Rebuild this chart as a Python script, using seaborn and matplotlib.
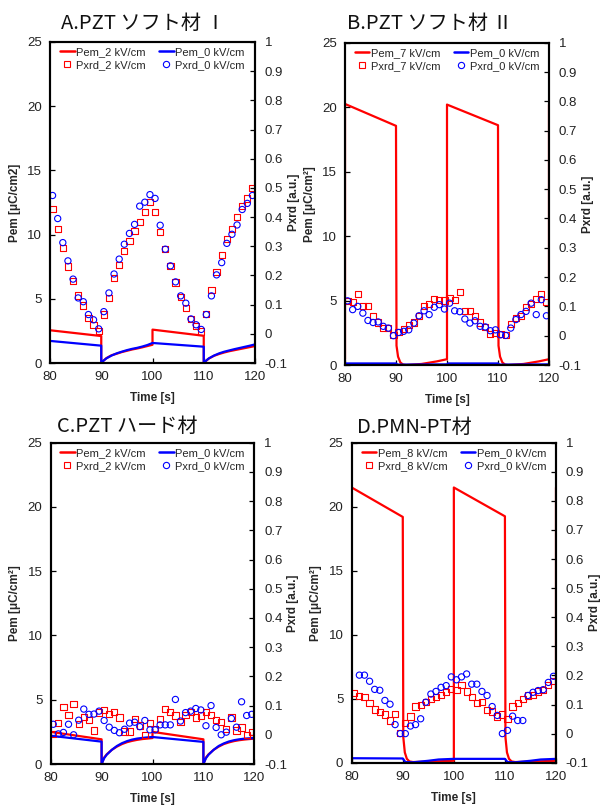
import numpy as np
import pandas as pd
import matplotlib
matplotlib.use("Agg")
import matplotlib.pyplot as plt
from matplotlib.lines import Line2D
import seaborn as sns

# ---------------- data ----------------
t_xrd = np.arange(80.5, 120.0, 1.0)   # XRD sampling times [s]

# Panel A  (PZT soft I)
A_pem_hi_t = [80, 90, 90, 90.5, 91, 92, 93, 94, 95, 96, 97, 98, 99, 100, 100, 110, 110, 110.5, 111, 112, 113, 114, 115, 116, 117, 118, 119, 120]
A_pem_hi_v = [2.55, 2.1, 0.0, 0.2, 0.38, 0.6, 0.72, 0.85, 0.95, 1.05, 1.13, 1.22, 1.32, 1.42, 2.6, 2.12, 0.0, 0.18, 0.35, 0.56, 0.7, 0.82, 0.92, 1.0, 1.08, 1.16, 1.24, 1.32]
A_pem_0_t = [80, 90, 90, 90.5, 91, 92, 93, 94, 95, 96, 97, 98, 99, 100, 110, 110, 110.5, 111, 112, 113, 114, 115, 116, 117, 118, 119, 120]
A_pem_0_v = [1.72, 1.35, 0.0, 0.2, 0.36, 0.58, 0.75, 0.88, 1.0, 1.1, 1.18, 1.28, 1.4, 1.56, 1.27, 0.0, 0.2, 0.36, 0.58, 0.75, 0.88, 0.98, 1.08, 1.17, 1.26, 1.35, 1.45]
A_xrd_hi = [0.428, 0.358, 0.293, 0.231, 0.18, 0.131, 0.097, 0.053, 0.031, 0.011,
            0.066, 0.124, 0.191, 0.236, 0.284, 0.318, 0.352, 0.384, 0.417, 0.452,
            0.417, 0.349, 0.29, 0.233, 0.176, 0.127, 0.089, 0.051, 0.028, 0.008,
            0.068, 0.15, 0.2125, 0.269, 0.324, 0.358, 0.4, 0.4375, 0.464, 0.5]
A_xrd_0 = [0.474, 0.395, 0.3125, 0.25, 0.1875, 0.123, 0.11, 0.066, 0.048, 0.017,
           0.076, 0.14, 0.205, 0.256, 0.307, 0.344, 0.375, 0.4375, 0.451, 0.477,
           0.464, 0.372, 0.29, 0.233, 0.178, 0.13, 0.105, 0.051, 0.031, 0.015,
           0.066, 0.13, 0.202, 0.244, 0.31, 0.341, 0.373, 0.426, 0.447, 0.474]

# Panel B  (PZT soft II)
B_pem_hi_t = [80, 80, 90, 90.1, 90.4, 90.85, 91.4, 92, 95, 98, 100, 100, 110, 110.1, 110.4, 110.85, 111.4, 112, 115, 118, 120, 120]
B_pem_hi_v = [0.45, 20.25, 18.55, 1.5, 0.65, 0.2, 0.03, 0.0, 0.08, 0.28, 0.45, 20.2, 18.6, 1.5, 0.65, 0.2, 0.03, 0.0, 0.08, 0.28, 0.45, 20.2]
B_pem_0_t = [80, 90, 90.3, 100, 100.2, 110, 110.3, 120]
B_pem_0_v = [0.12, 0.12, 0.03, 0.05, 0.12, 0.12, 0.03, 0.05]
B_xrd_hi = [0.119, 0.116, 0.143, 0.102, 0.102, 0.066, 0.045, 0.025, 0.026, 0.002,
            0.0125, 0.023, 0.036, 0.045, 0.066, 0.102, 0.109, 0.126, 0.123, 0.12,
            0.128, 0.123, 0.148, 0.083, 0.083, 0.066, 0.045, 0.03, 0.007, 0.009,
            0.006, 0.003, 0.041, 0.06, 0.068, 0.098, 0.109, 0.125, 0.142, 0.114]
B_xrd_0 = [0.119, 0.089, 0.1, 0.077, 0.052, 0.045, 0.047, 0.032, 0.026, 0.0,
           0.011, 0.015, 0.02, 0.043, 0.068, 0.085, 0.072, 0.097, 0.106, 0.091,
           0.111, 0.085, 0.082, 0.057, 0.043, 0.051, 0.032, 0.03, 0.017, 0.02,
           0.003, 0.001, 0.026, 0.055, 0.072, 0.083, 0.111, 0.072, 0.123, 0.068]

# Panel C  (PZT hard)
C_pem_hi_t = [80, 90, 90, 90.5, 91, 92, 93, 94, 95, 96, 97, 98, 99, 100, 100, 110, 110, 110.5, 111, 112, 113, 114, 115, 116, 117, 118, 119, 120]
C_pem_hi_v = [2.5, 1.92, 0.0, 0.5, 0.75, 1.1, 1.35, 1.55, 1.7, 1.8, 1.88, 1.94, 1.98, 2.02, 2.5, 1.92, 0.0, 0.5, 0.75, 1.1, 1.35, 1.55, 1.68, 1.78, 1.85, 1.9, 1.94, 1.97]
C_pem_0_t = [80, 90, 90, 90.5, 91, 92, 93, 94, 95, 96, 97, 98, 99, 100, 110, 110, 110.5, 111, 112, 113, 114, 115, 116, 117, 118, 119, 120]
C_pem_0_v = [2.2, 1.74, 0.0, 0.45, 0.72, 1.1, 1.4, 1.62, 1.78, 1.9, 1.98, 2.03, 2.07, 2.1, 1.72, 0.0, 0.45, 0.72, 1.1, 1.4, 1.6, 1.75, 1.85, 1.92, 1.97, 2.0, 2.02]
C_xrd_hi = [0.002, 0.04, 0.094, 0.068, 0.105, 0.036, 0.06, 0.051, 0.015, 0.076,
            0.085, 0.071, 0.077, 0.059, 0.011, 0.011, 0.053, 0.032, -0.002, 0.04,
            0.02, 0.054, 0.087, 0.077, 0.066, 0.043, 0.068, 0.079, 0.059, 0.066,
            0.077, 0.068, 0.051, 0.043, 0.02, 0.059, 0.015, 0.025, -0.002, 0.009]
C_xrd_0 = [0.036, 0.003, 0.008, 0.036, 0.0, 0.05, 0.088, 0.07, 0.071, 0.081,
           0.049, 0.026, 0.015, 0.007, 0.019, 0.04, 0.043, 0.028, 0.049, 0.017,
           0.017, 0.034, 0.034, 0.034, 0.121, 0.047, 0.076, 0.081, 0.09, 0.085,
           0.031, 0.1, 0.025, 0.0, 0.009, 0.056, 0.026, 0.113, 0.066, 0.07]

# Panel D  (PMN-PT)
D_pem_hi_t = [80, 80, 90, 90.1, 90.4, 90.8, 91.3, 92, 100, 100, 110, 110.1, 110.4, 110.8, 111.3, 112, 120, 120]
D_pem_hi_v = [0.15, 21.5, 19.2, 2.0, 0.8, 0.3, 0.1, 0.05, 0.15, 21.5, 19.25, 2.0, 0.8, 0.3, 0.1, 0.05, 0.15, 21.5]
D_pem_0_t = [80, 90, 90.5, 92, 95, 97, 100, 110, 110.5, 112, 115, 117, 120]
D_pem_0_v = [0.35, 0.33, 0.05, 0.03, 0.15, 0.25, 0.3, 0.3, 0.05, 0.03, 0.15, 0.25, 0.3]
D_xrd_hi = [0.139, 0.13, 0.125, 0.106, 0.083, 0.074, 0.066, 0.045, 0.068, 0.002,
            0.0375, 0.059, 0.093, 0.097, 0.108, 0.119, 0.127, 0.133, 0.142, 0.153,
            0.15, 0.167, 0.145, 0.125, 0.105, 0.11, 0.08, 0.076, 0.059, 0.066,
            0.051, 0.093, 0.105, 0.119, 0.131, 0.134, 0.145, 0.15, 0.167, 0.182]
D_xrd_0 = [0.201, 0.201, 0.18, 0.152, 0.149, 0.114, 0.101, 0.031, 0.0,
           0.0, 0.026, 0.031, 0.051, 0.108, 0.136, 0.145, 0.159, 0.165, 0.195,
           0.185, 0.195, 0.205, 0.17, 0.17, 0.145, 0.131, 0.093, 0.0625, 0.0,
           0.011, 0.06, 0.045, 0.045, 0.131, 0.142, 0.148, 0.151, 0.176, 0.197]

titles = ["A.PZT ソフト材 Ⅰ", "B.PZT ソフト材 Ⅱ", "C.PZT ハード材", "D.PMN-PT材"]
fields = ["2", "7", "2", "8"]
ylabels = ["Pem [μC/cm2]", "Pem [μC/cm²]", "Pem [μC/cm²]", "Pem [μC/cm²]"]
x_ticks = [80, 90, 100, 110, 120]
left_ticks = [0, 5, 10, 15, 20, 25]
right_ticks = [-0.1, 0, 0.1, 0.2, 0.3, 0.4, 0.5, 0.6, 0.7, 0.8, 0.9, 1]
right_ticklabels = ["-0.1", "0", "0.1", "0.2", "0.3", "0.4", "0.5", "0.6", "0.7", "0.8", "0.9", "1"]

panels = [
    dict(hi=(A_pem_hi_t, A_pem_hi_v), lo=(A_pem_0_t, A_pem_0_v), xhi=(t_xrd, A_xrd_hi), xlo=(t_xrd, A_xrd_0)),
    dict(hi=(B_pem_hi_t, B_pem_hi_v), lo=(B_pem_0_t, B_pem_0_v), xhi=(t_xrd, B_xrd_hi), xlo=(t_xrd, B_xrd_0)),
    dict(hi=(C_pem_hi_t, C_pem_hi_v), lo=(C_pem_0_t, C_pem_0_v), xhi=(t_xrd, C_xrd_hi), xlo=(t_xrd, C_xrd_0)),
    dict(hi=(D_pem_hi_t, D_pem_hi_v), lo=(D_pem_0_t, D_pem_0_v), xhi=(t_xrd, D_xrd_hi), xlo=(t_xrd[1:], D_xrd_0)),
]

# ---------------- style ----------------
sns.set_theme(style="ticks")
plt.rcParams['font.family'] = ['Liberation Sans', 'Noto Sans CJK JP', 'DejaVu Sans']

W, H = 601, 805
fig = plt.figure(figsize=(W / 100, H / 100), dpi=100)
fig.patch.set_facecolor("white")

# axes boxes in pixels: left, right, top, bottom
boxes = [(50, 255, 42, 363), (345, 549, 42.7, 365), (50.7, 254.3, 442.7, 764), (351.7, 556, 442.7, 762.7)]
title_pos = [(60.7, 28.5), (346.7, 28.5), (56.7, 431.5), (356.7, 432.5)]

RED = "#ff0000"
BLUE = "#0000ff"

for i, (p, box) in enumerate(zip(panels, boxes)):
    l, r, t, b = box
    ax = fig.add_axes([l / W, 1 - b / H, (r - l) / W, (b - t) / H])
    ax.set_facecolor("white")
    ax2 = ax.twinx()

    sns.lineplot(x=p["hi"][0], y=p["hi"][1], ax=ax, color=RED, lw=1.6,
                 sort=False, estimator=None, legend=False)
    sns.lineplot(x=p["lo"][0], y=p["lo"][1], ax=ax, color=BLUE, lw=1.6,
                 sort=False, estimator=None, legend=False)
    sns.scatterplot(x=p["xhi"][0], y=p["xhi"][1], ax=ax2, marker="s", s=20,
                    facecolors="none", edgecolor=RED, linewidth=0.8, legend=False)
    sns.scatterplot(x=p["xlo"][0], y=p["xlo"][1], ax=ax2, marker="o", s=20,
                    facecolors="none", edgecolor=BLUE, linewidth=0.8, legend=False)

    ax.set_xlim(80, 120)
    ax.set_ylim(0, 25)
    ax2.set_ylim(-0.1, 1)
    ax.set_xticks(x_ticks)
    ax.set_xticklabels([str(v) for v in x_ticks])
    ax.set_yticks(left_ticks)
    ax.set_yticklabels([str(v) for v in left_ticks])
    ax2.set_yticks(right_ticks)
    ax2.set_yticklabels(right_ticklabels)

    for a in (ax, ax2):
        for s in a.spines.values():
            s.set_visible(True)
            s.set_linewidth(1.5)
            s.set_color("black")
        a.tick_params(direction="in", length=3.5, width=0.9, labelsize=9.5,
                      colors="black", labelcolor="#222222")
    ax.tick_params(axis="y", pad=6)
    ax.tick_params(axis="x", pad=6)
    ax2.tick_params(axis="y", pad=7)

    ax.set_xlabel("Time [s]", fontsize=8.5, fontweight="bold")
    ax.set_ylabel(ylabels[i], fontsize=8.5, fontweight="bold")
    ax2.set_ylabel("Pxrd [a.u.]", fontsize=8.5, fontweight="bold", rotation=90)
    wpx, hpx = r - l, b - t
    ax.yaxis.set_label_coords(-29.5 / wpx, 0.5)
    ax2.yaxis.set_label_coords(1 + 33 / wpx, 0.5)
    ax.xaxis.set_label_coords(0.5, -29 / hpx)

    f = fields[i]
    handles = [
        Line2D([], [], color=RED, lw=1.8),
        Line2D([], [], color=RED, marker="s", ls="none", mfc="none", mec=RED, ms=4.5, mew=0.8),
        Line2D([], [], color=BLUE, lw=1.8),
        Line2D([], [], color=BLUE, marker="o", ls="none", mfc="none", mec=BLUE, ms=4.5, mew=0.8),
    ]
    labels = [f"Pem_{f} kV/cm", f"Pxrd_{f} kV/cm", "Pem_0 kV/cm", "Pxrd_0 kV/cm"]
    leg = ax2.legend(handles, labels, ncol=2, loc="upper center", bbox_to_anchor=(0.5, 1.0),
                     frameon=False, fontsize=8, handlelength=1.3, handletextpad=0.15,
                     columnspacing=1.2, labelspacing=0.3, borderpad=0.25, borderaxespad=0.2)

    tx, ty = title_pos[i]
    fig.text(tx / W, 1 - ty / H, titles[i], fontsize=14.5, ha="left", va="baseline",
             family=['Noto Sans CJK JP', 'DejaVu Sans'], color="#111111")

fig.savefig("out.png", dpi=100, facecolor="white")
